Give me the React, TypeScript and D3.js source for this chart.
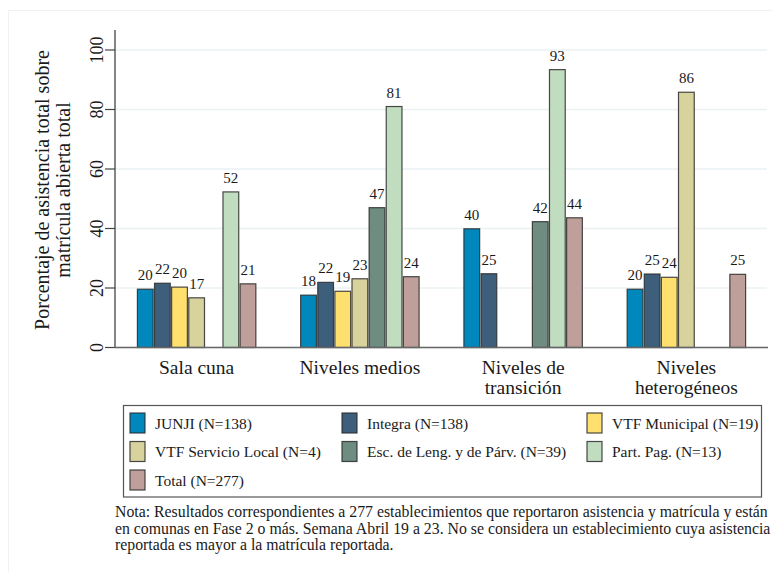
import React from "react";
import * as d3 from "d3";

const categories: string[][] = [
  ["Sala cuna"],
  ["Niveles medios"],
  ["Niveles de", "transición"],
  ["Niveles", "heterogéneos"],
];
const seriesNames = [
  "JUNJI (N=138)",
  "Integra (N=138)",
  "VTF Municipal (N=19)",
  "VTF Servicio Local (N=4)",
  "Esc. de Leng. y de Párv. (N=39)",
  "Part. Pag. (N=13)",
  "Total (N=277)",
];
const seriesColors = ["#0088BD", "#3D5F7B", "#FFE06E", "#D8D29D", "#6E8C7F", "#C1DDC0", "#BE9F9A"];
// values per category, per series (null = no bar)
const salaCuna = [19.6, 21.6, 20.3, 16.7, null, 52.3, 21.4];
const nivelesMedios = [17.6, 21.9, 18.9, 23.1, 47.0, 81.0, 23.8];
const nivelesTransicion = [39.9, 24.8, null, null, 42.3, 93.4, 43.6];
const nivelesHeterogeneos = [19.6, 24.7, 23.6, 85.8, null, null, 24.6];
const yTicks = [0, 20, 40, 60, 80, 100];
const yTitle = ["Porcentaje de asistencia total sobre", "matrícula abierta total"];
const noteLines = [
  "Nota: Resultados correspondientes a 277 establecimientos que reportaron asistencia y matrícula y están",
  "en comunas en Fase 2 o más. Semana Abril 19 a 23. No se considera un establecimiento cuya asistencia",
  "reportada es mayor a la matrícula reportada.",
];

const data: (number | null)[][] = [salaCuna, nivelesMedios, nivelesTransicion, nivelesHeterogeneos];
const FONT = "'Liberation Serif', 'Times New Roman', serif";

export default function App() {
  const W = 772, H = 572;
  const plotLeft = 115, plotRight = 768, plotTop = 50, plotBottom = 347.5;
  const x0 = d3.scaleBand<number>().domain(d3.range(categories.length)).range([plotLeft, plotRight]).padding(0);
  const gw = x0.bandwidth();
  const x1 = d3
    .scaleBand<number>()
    .domain(d3.range(seriesNames.length))
    .range([22.4, gw - 22.4])
    .paddingInner(0.08)
    .paddingOuter(0);
  const y = d3.scaleLinear().domain([0, 100]).range([plotBottom, plotTop]);

  const legendCols = [130, 342, 587];
  const legendRows = [413, 441.5, 470];

  return (
    <svg width={W} height={H} style={{ position: "absolute", left: 0, top: 0, background: "#fff" }}>
      <rect x={8.5} y={10.5} width={800} height={600} fill="#fff" stroke="#EEF2F2" strokeWidth={1} />
      {/* gridlines */}
      {yTicks.map((t) => (
        <line key={"g" + t} x1={plotLeft} x2={767} y1={y(t)} y2={y(t)} stroke="#EAF1F3" strokeWidth={1.5} />
      ))}
      {/* bars */}
      {data.map((vals, ci) =>
        vals.map((v, si) =>
          v == null ? null : (
            <g key={`b${ci}-${si}`}>
              <rect
                x={(x0(ci) as number) + (x1(si) as number)}
                y={y(v)}
                width={x1.bandwidth()}
                height={plotBottom - y(v)}
                fill={seriesColors[si]}
                stroke="#2a2a2a"
                strokeOpacity={0.85}
                strokeWidth={1.2}
              />
              <text
                x={(x0(ci) as number) + (x1(si) as number) + x1.bandwidth() / 2}
                y={y(v) - 9}
                textAnchor="middle"
                fontFamily={FONT}
                fontSize={15}
                fill="#1a1a1a"
              >
                {Math.round(v)}
              </text>
            </g>
          )
        )
      )}
      {/* axes */}
      <line x1={plotLeft} x2={plotLeft} y1={30} y2={plotBottom} stroke="#444" strokeWidth={1.3} />
      <line x1={plotLeft} x2={plotRight} y1={plotBottom} y2={plotBottom} stroke="#666" strokeWidth={1.3} />
      {yTicks.map((t) => (
        <g key={"t" + t}>
          <line x1={105} x2={plotLeft} y1={y(t)} y2={y(t)} stroke="#444" strokeWidth={1.2} />
          <text
            transform={`translate(103,${y(t)}) rotate(-90)`}
            textAnchor="middle"
            fontFamily={FONT}
            fontSize={18}
            fill="#1a1a1a"
          >
            {t}
          </text>
        </g>
      ))}
      {yTitle.map((line, i) => (
        <text
          key={"yt" + i}
          transform={`translate(${49 + i * 20.5},190) rotate(-90)`}
          textAnchor="middle"
          fontFamily={FONT}
          fontSize={20}
          fill="#1a1a1a"
        >
          {line}
        </text>
      ))}
      {/* category labels */}
      {categories.map((lines, ci) =>
        lines.map((ln, li) => (
          <text
            key={`c${ci}-${li}`}
            x={(x0(ci) as number) + gw / 2}
            y={374 + li * 20}
            textAnchor="middle"
            fontFamily={FONT}
            fontSize={19.5}
            fill="#1a1a1a"
          >
            {ln}
          </text>
        ))
      )}
      {/* legend */}
      <rect x={123.5} y={405.5} width={638} height={91.5} fill="#fff" stroke="#555" strokeWidth={1.2} />
      {seriesNames.map((name, si) => {
        const col = si % 3;
        const row = Math.floor(si / 3);
        return (
          <g key={"l" + si}>
            <rect
              x={legendCols[col]}
              y={legendRows[row]}
              width={15}
              height={20}
              fill={seriesColors[si]}
              stroke="#2a2a2a"
              strokeOpacity={0.85}
              strokeWidth={1.2}
            />
            <text
              x={legendCols[col] + 25}
              y={legendRows[row] + 15.5}
              fontFamily={FONT}
              fontSize={15.5}
              fill="#1a1a1a"
            >
              {name}
            </text>
          </g>
        );
      })}
      {/* note */}
      {noteLines.map((ln, i) => (
        <text key={"n" + i} x={115} y={517 + i * 16.5} fontFamily={FONT} fontSize={15.8} fill="#1a1a1a">
          {ln}
        </text>
      ))}
    </svg>
  );
}
